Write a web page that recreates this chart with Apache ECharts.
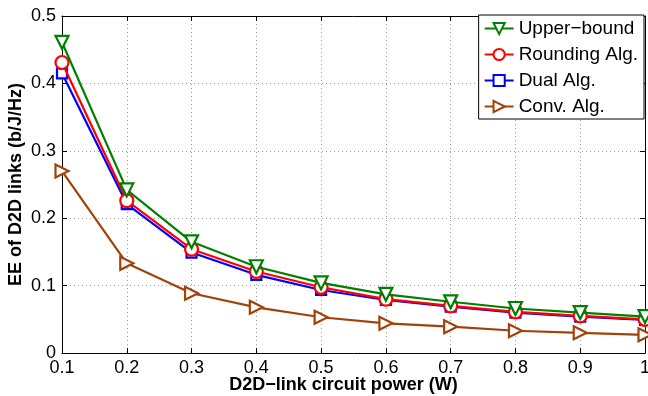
<!DOCTYPE html>
<html>
<head>
<meta charset="utf-8">
<script src="https://cdn.jsdelivr.net/npm/echarts@6/dist/echarts.min.js"></script>
<style>html,body{margin:0;padding:0;background:#fff}#c{width:648px;height:396px}</style>
</head>
<body>
<div id="c"></div>
<script>
const xValues = [0.1, 0.2, 0.3, 0.4, 0.5, 0.6, 0.7, 0.8, 0.9, 1.0];
const upperBound = [0.461, 0.242, 0.165, 0.128, 0.104, 0.087, 0.076, 0.066, 0.060, 0.054];
const roundingAlg = [0.431, 0.226, 0.154, 0.121, 0.0975, 0.080, 0.070, 0.061, 0.055, 0.050];
const dualAlg = [0.415, 0.221, 0.149, 0.116, 0.0935, 0.0786, 0.0687, 0.060, 0.054, 0.049];
const convAlg = [0.270, 0.133, 0.0886, 0.0678, 0.053, 0.044, 0.039, 0.033, 0.030, 0.027];
const seriesNames = ['Upper\u2212bound', 'Rounding Alg.', 'Dual Alg.', 'Conv. Alg.'];
const xTitle = 'D2D\u2212link circuit power (W)';
const yTitle = 'EE of D2D links (b/J/Hz)';

const colors = ['#008000', '#ff0000', '#0000ff', '#a0420a'];
const symbols = ['triangle', 'circle', 'rect', 'triangle'];
const rotates = [180, 0, 0, -90];
const sizes = [13, 13, 10, 13];
const datasets = [upperBound, roundingAlg, dualAlg, convAlg];

const font = 'Liberation Sans, Arial, Helvetica, sans-serif';
const fmt = v => String(+v.toFixed(1));

const chart = echarts.init(document.getElementById('c'), null, {renderer: 'canvas'});
const axisBase = {
  type: 'value',
  axisLine: {show: true, onZero: false, lineStyle: {color: '#000', width: 1}},
  axisTick: {show: true, inside: true, length: 5, lineStyle: {color: '#000'}},
  splitLine: {show: false}
};
chart.setOption({
  animation: false,
  backgroundColor: '#fff',
  grid: {left: 62, right: 3, top: 16, bottom: 43, show: false, containLabel: false, outerBoundsMode: 'none'},
  legend: {
    orient: 'vertical',
    right: 4, top: 15,
    backgroundColor: '#fff',
    borderColor: '#000', borderWidth: 1, borderRadius: 0,
    padding: [4, 6, 3, 5],
    itemGap: 7,
    itemWidth: 29, itemHeight: 14,
    textStyle: {fontFamily: font, fontSize: 19, color: '#000'},
    data: seriesNames
  },
  xAxis: [
    Object.assign({}, axisBase, {
      min: 0.1, max: 1, interval: 0.1, position: 'bottom',
      axisLabel: {fontFamily: font, fontSize: 18, color: '#000', margin: 6, formatter: fmt},
      splitLine: {show: true, lineStyle: {color: '#9a9a9a', type: [1, 3], width: 1}},
      name: xTitle, nameLocation: 'middle', nameGap: 23, nameMoveOverlap: false,
      nameTextStyle: {fontFamily: font, fontSize: 18, fontWeight: 'bold', color: '#000', padding: [0, 20, 0, 0]}
    }),
    Object.assign({}, axisBase, {
      min: 0.1, max: 1, interval: 0.1, position: 'top',
      axisLabel: {show: false}
    })
  ],
  yAxis: [
    Object.assign({}, axisBase, {
      min: 0, max: 0.5, interval: 0.1, position: 'left',
      axisLabel: {fontFamily: font, fontSize: 18, color: '#000', margin: 6, formatter: fmt},
      splitLine: {show: true, lineStyle: {color: '#9a9a9a', type: [1, 3], width: 1}},
      name: yTitle, nameLocation: 'middle', nameGap: 37, nameMoveOverlap: false,
      nameTextStyle: {fontFamily: font, fontSize: 18, fontWeight: 'bold', color: '#000'}
    }),
    Object.assign({}, axisBase, {
      min: 0, max: 0.5, interval: 0.1, position: 'right',
      axisLabel: {show: false}
    })
  ],
  series: seriesNames.map((name, i) => ({
    name: name,
    type: 'line',
    data: xValues.map((x, j) => [x, datasets[i][j]]),
    symbol: symbols[i],
    symbolRotate: rotates[i],
    symbolSize: sizes[i],
    showAllSymbol: true,
    clip: true,
    color: colors[i],
    lineStyle: {color: colors[i], width: 2.2},
    itemStyle: {color: '#fff', borderColor: colors[i], borderWidth: 2.2},
    z: 10 - i
  }))
});
</script>
</body>
</html>
